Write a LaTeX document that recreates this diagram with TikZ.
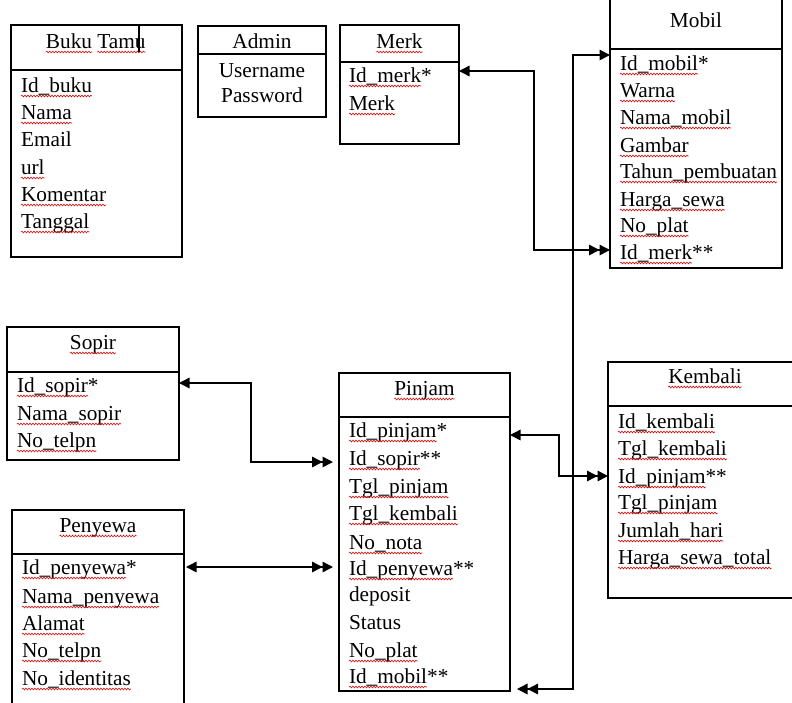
\documentclass[tikz,border=0pt]{standalone}
\usepackage{fontspec}
\setmainfont{Liberation Serif}
\usetikzlibrary{arrows.meta,decorations.pathmorphing}
\tikzset{
  ent/.style={draw, line width=1.3pt, inner sep=0pt, outer sep=0pt, anchor=north west},
  fld/.style={inner sep=0pt, outer sep=0pt, anchor=base west, font=\fontsize{21.3}{25}\selectfont},
  ttl/.style={inner sep=0pt, outer sep=0pt, anchor=base, font=\fontsize{21.3}{25}\selectfont},
  sq/.style={red!85!black, line width=0.55pt, decorate, decoration={snake, amplitude=0.9pt, segment length=3pt}},
  conn/.style={line width=1.5pt},
  sd/.style={conn, {Triangle[length=10.5pt,width=10.5pt]}-{Triangle[length=10.5pt,width=10.5pt]Triangle[length=10.5pt,width=10.5pt]}},
  ds/.style={conn, {Triangle[length=10.5pt,width=10.5pt]Triangle[length=10.5pt,width=10.5pt]}-{Triangle[length=10.5pt,width=10.5pt]}},
}
% underlined field: name, x, y, underlined text, extra text
\newcommand\fu[5]{%
  \node[fld] (#1) at (#2,#3) {#4};
  \draw[sq] ([yshift=-4pt]#1.base west) -- ([yshift=-4pt]#1.base east);
  \node[fld] (#1s) at (#1.base east) {#5};}
% plain field
\newcommand\fn[4]{\node[fld] (#1) at (#2,#3) {#4};}
% underlined title
\newcommand\tu[4]{%
  \node[ttl] (#1) at (#2,#3) {#4};
  \draw[sq] ([yshift=-4pt]#1.base west) -- ([yshift=-4pt]#1.base east);}
\newcommand\tn[4]{\node[ttl] (#1) at (#2,#3) {#4};}
\newcommand\entbox[6]{% name, x1, y1, x2, y2, divider y
  \node[ent, minimum width=#4pt-#2pt, minimum height=#5pt-#3pt] (#1) at (#2,#3) {};
  \draw[line width=1.3pt] (#1.west |- 0,#6) -- (#1.east |- 0,#6);}
\begin{document}
\begin{tikzpicture}[x=1pt, y=-1pt]
\useasboundingbox (0,0) rectangle (792,702);

% ---------- Buku Tamu ----------
\entbox{bukubox}{11}{25}{182}{257}{70}
\fu{bukut}{45.9}{48}{Buku}{}
\node[fld] (bukutb) at ([xshift=5.33pt]bukut.base east) {Tamu};
\draw[sq] ([yshift=-4pt]bukutb.base west) -- ([yshift=-4pt]bukutb.base east);
\draw[line width=1.3pt] (139,25) -- (139,52);
\fu{bk1}{21}{92}{Id\_buku}{}
\fu{bk2}{21}{119}{Nama}{}
\fn{bk3}{21}{146}{Email}
\fu{bk4}{21}{174}{url}{}
\fu{bk5}{21}{201}{Komentar}{}
\fu{bk6}{21}{228}{Tanggal}{}

% ---------- Admin ----------
\entbox{adminbox}{198}{26}{326}{117}{54}
\tn{admint}{262}{48}{Admin}
\tn{ad1}{262}{77}{Username}
\tn{ad2}{262}{102}{Password}

% ---------- Merk ----------
\entbox{merkbox}{340}{25}{459}{144}{62}
\tu{merkt}{399.5}{48}{Merk}
\fu{mk1}{349}{82}{Id\_merk}{*}
\fu{mk2}{349}{110}{Merk}{}

% ---------- Mobil ----------
\entbox{mobilbox}{610}{-6}{782}{268}{49}
\tn{mobilt}{696}{27}{Mobil}
\fu{mb1}{620}{70}{Id\_mobil}{*}
\fu{mb2}{620}{97}{Warna}{}
\fu{mb3}{620}{124}{Nama\_mobil}{}
\fu{mb4}{620}{152}{Gambar}{}
\fu{mb5}{620}{178}{Tahun\_pembuatan}{}
\fu{mb6}{620}{206}{Harga\_sewa}{}
\fu{mb7}{620}{232}{No\_plat}{}
\fu{mb8}{620}{259}{Id\_merk}{**}

% ---------- Sopir ----------
\entbox{sopirbox}{7}{327}{179}{460}{372}
\tu{sopirt}{93}{349}{Sopir}
\fu{sp1}{17}{392}{Id\_sopir}{*}
\fu{sp2}{17}{420}{Nama\_sopir}{}
\fu{sp3}{17}{447}{No\_telpn}{}

% ---------- Penyewa ----------
\entbox{penyewabox}{12}{510}{184}{720}{554}
\tu{penyewat}{98}{532}{Penyewa}
\fu{pw1}{22}{574}{Id\_penyewa}{*}
\fu{pw2}{22}{603}{Nama\_penyewa}{}
\fu{pw3}{22}{630}{Alamat}{}
\fu{pw4}{22}{657}{No\_telpn}{}
\fu{pw5}{22}{685}{No\_identitas}{}

% ---------- Pinjam ----------
\entbox{pinjambox}{339}{373}{510}{691}{417}
\tu{pinjamt}{424.5}{395}{Pinjam}
\fu{pj1}{349}{437}{Id\_pinjam}{*}
\fu{pj2}{349}{465}{Id\_sopir}{**}
\fu{pj3}{349}{493}{Tgl\_pinjam}{}
\fu{pj4}{349}{520}{Tgl\_kembali}{}
\fu{pj5}{349}{549}{No\_nota}{}
\fu{pj6}{349}{575}{Id\_penyewa}{**}
\fn{pj7}{349}{601}{deposit}
\fn{pj8}{349}{629}{Status}
\fu{pj9}{349}{657}{No\_plat}{}
\fu{pj10}{349}{683}{Id\_mobil}{**}

% ---------- Kembali ----------
\entbox{kembalibox}{608}{362}{800}{598}{406}
\tu{kembalit}{705}{383}{Kembali}
\fu{kb1}{618}{428}{Id\_kembali}{}
\fu{kb2}{618}{455}{Tgl\_kembali}{}
\fu{kb3}{618}{483}{Id\_pinjam}{**}
\fu{kb4}{618}{509}{Tgl\_pinjam}{}
\fu{kb5}{618}{537}{Jumlah\_hari}{}
\fu{kb6}{618}{564}{Harga\_sewa\_total}{}

% ---------- connectors ----------
\coordinate (j1) at (534,250);
\draw[sd] (merkbox.east |- 0,71) -| (j1) -- (mobilbox.west |- j1);

\coordinate (j2) at (573,689);
\draw[ds] ([xshift=7pt]pinjambox.east |- j2) -- (j2) |- (mobilbox.west |- 0,55);

\coordinate (j3) at (251,462);
\draw[sd] (sopirbox.east |- 0,383) -| (j3) -- ([xshift=-6pt]pinjambox.west |- j3);

\draw[sd] ([xshift=2pt]penyewabox.east |- 0,567) -- ([xshift=-6pt]pinjambox.west |- 0,567);

\coordinate (j4) at (559,476);
\draw[sd] (pinjambox.east |- 0,435) -| (j4) -- (kembalibox.west |- j4);
\end{tikzpicture}
\end{document}
